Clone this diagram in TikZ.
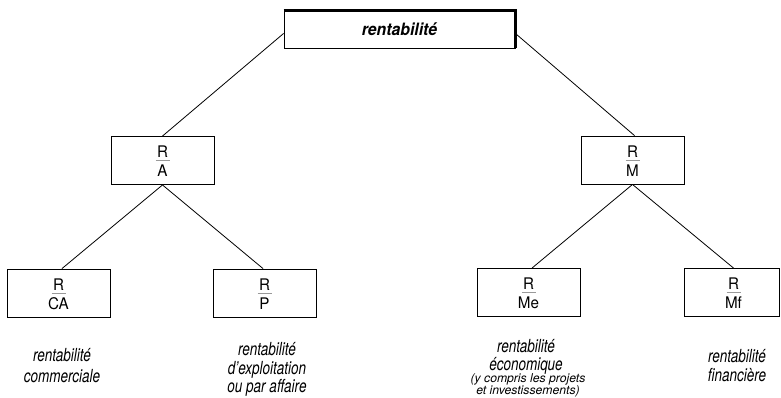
\documentclass[tikz,border=0pt]{standalone}
\usepackage{fontspec}
\setmainfont{TeX Gyre Heros}
\newfontfamily\capfont{TeX Gyre Heros}[FakeStretch=0.75]
\newfontfamily\fracfont{TeX Gyre Heros}[FakeStretch=0.95]
\newfontfamily\titlefont{TeX Gyre Heros}[FakeStretch=0.93]
\tikzset{
  box/.style={draw, line width=0.9pt, minimum width=103pt, minimum height=48pt, inner sep=0pt},
  conn/.style={draw, line width=0.8pt},
  fracpart/.style={anchor=base, inner sep=0pt, font=\fracfont\fontsize{16}{18}\selectfont},
  fracbar/.style={draw=black!40, line width=1.2pt},
  caption/.style={anchor=north, inner sep=0pt, font=\capfont\fontsize{18}{18}\selectfont\itshape},
  smallcaption/.style={anchor=north, inner sep=0pt, font=\fontsize{12.2}{10.5}\selectfont\itshape},
}
% a boxed ratio: name, centre, numerator, denominator
\newcommand\ratiobox[4]{%
  \node[box] (#1) at #2 {};
  \node[fracpart] (#1n) at ([yshift=3pt]#1.center) {#3};
  \node[fracpart] (#1d) at ([yshift=-16pt]#1.center) {#4};
  \draw[fracbar] ([xshift=-7pt,yshift=-0.3pt]#1.center) -- ([xshift=7pt,yshift=-0.3pt]#1.center);
}
\begin{document}
\begin{tikzpicture}[x=1pt,y=-1pt]
\useasboundingbox (0,0) rectangle (781,397);

% root
\node[box, minimum width=231pt, minimum height=37pt,
      font=\titlefont\fontsize{17}{19}\selectfont\bfseries\itshape] (top) at (399.5,29.5) {rentabilité};
\draw[line width=3.5pt] (top.north west) -- (top.north east) -- (top.south east);

% ratios
\ratiobox{RA}{(162.5,160.5)}{R}{A}
\ratiobox{RM}{(632.5,160)}{R}{M}
\ratiobox{RCA}{(58.5,293)}{R}{CA}
\ratiobox{RP}{(264.5,293)}{R}{P}
\ratiobox{RMe}{(528.5,292.5)}{R}{Me}
\node[box, minimum width=95pt] (RMf) at (731.5,292.5) {};
\node[fracpart] (RMfn) at ([xshift=2pt,yshift=3pt]RMf.center) {R};
\node[fracpart] (RMfd) at ([xshift=2pt,yshift=-16pt]RMf.center) {Mf};
\draw[fracbar] ([xshift=-5pt,yshift=-0.3pt]RMf.center) -- ([xshift=9pt,yshift=-0.3pt]RMf.center);

% connectors
\draw[conn] ([yshift=-4pt]top.west) -- (RA.north);
\draw[conn] ([yshift=-4pt]top.east) -- ([xshift=2pt]RM.north);
\draw[conn] (RA.south) -- ([xshift=3.5pt]RCA.north);
\draw[conn] (RA.south) -- ([xshift=-1.5pt]RP.north);
\draw[conn] (RM.south) -- ([xshift=3.5pt]RMe.north);
\draw[conn] (RM.south) -- ([xshift=2pt]RMf.north);

% captions
\node[caption] (c1) at (62,348.4) {\begin{tabular}{@{}c@{}}rentabilité\\[2pt] commerciale\end{tabular}};
\node[caption] (c2) at (267,342.4) {\begin{tabular}{@{}c@{}}rentabilité\\ d’exploitation\\ ou par affaire\end{tabular}};
\node[caption] (c3) at (526,339) {\begin{tabular}{@{}c@{}}rentabilité\\ économique\end{tabular}};
\node[smallcaption] (c3s) at (528,373.8) {\begin{tabular}{@{}c@{}}(y compris les projets\\ et investissements)\end{tabular}};
\node[caption] (c4) at (737,349.4) {\begin{tabular}{@{}c@{}}rentabilité\\ financière\end{tabular}};
\end{tikzpicture}
\end{document}
